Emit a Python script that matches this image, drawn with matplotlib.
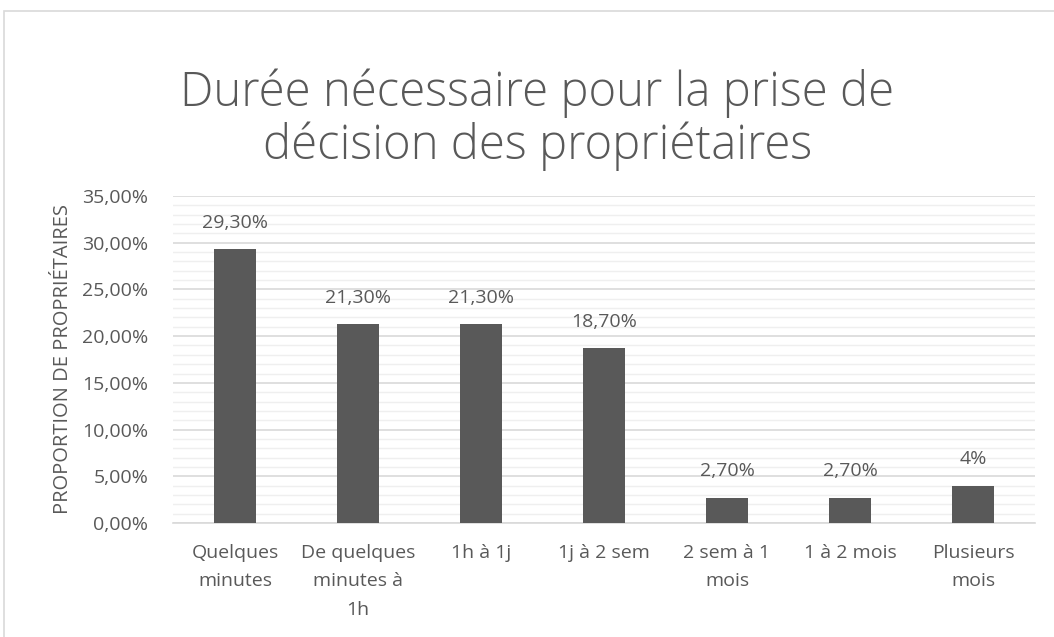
import numpy as np
import matplotlib
matplotlib.use("Agg")
import matplotlib.pyplot as plt
from matplotlib.patches import Rectangle
from matplotlib.ticker import MultipleLocator, FuncFormatter

# ------------------------------------------------------------
# DATA
# ------------------------------------------------------------
categories = [
    "Quelques\nminutes",
    "De quelques\nminutes à\n1h",
    "1h à 1j",
    "1j à 2 sem",
    "2 sem à 1\nmois",
    "1 à 2 mois",
    "Plusieurs\nmois",
]
values = [29.3, 21.3, 21.3, 18.7, 2.7, 2.7, 4.0]
value_labels = ["29,30%", "21,30%", "21,30%", "18,70%", "2,70%", "2,70%", "4%"]

title = "Durée nécessaire pour la prise de\ndécision des propriétaires"
ylabel = "PROPORTION DE PROPRIÉTAIRES"

# ------------------------------------------------------------
# STYLE
# ------------------------------------------------------------
TEXT_COLOR = "#595959"
BAR_COLOR = "#595959"
MAJOR_GRID = "#d9d9d9"
MINOR_GRID = "#efefef"
FS = 14
plt.rcParams["font.family"] = ["Open Sans", "DejaVu Sans"]

fig = plt.figure(figsize=(10.54, 6.37), dpi=100)

# chart frame (Excel-like border)
fig.patches.append(Rectangle((4 / 1054, -0.01), 1.02, (637 - 11) / 637 + 0.01,
                             transform=fig.transFigure, fill=False,
                             edgecolor="#d9d9d9", linewidth=1.2))

ax = fig.add_axes([0.1646, 0.179, 0.8169, 0.5133])

x = np.arange(len(categories))
ax.bar(x, values, width=0.335, color=BAR_COLOR, zorder=3)

for xi, v, lab in zip(x, values, value_labels):
    ax.annotate(lab, (xi, v), xytext=(0, 19), textcoords="offset points",
                ha="center", va="center", fontsize=FS, color=TEXT_COLOR)

ax.set_xlim(-0.5, len(categories) - 0.5)
ax.set_ylim(0, 35)
ax.yaxis.set_major_locator(MultipleLocator(5))
ax.yaxis.set_minor_locator(MultipleLocator(1))
ax.yaxis.set_major_formatter(FuncFormatter(lambda v, p: f"{v:.2f}%".replace(".", ",")))

ax.grid(True, which="major", axis="y", color=MAJOR_GRID, linewidth=1.2, zorder=0)
ax.grid(True, which="minor", axis="y", color=MINOR_GRID, linewidth=1.0, zorder=0)

ax.set_xticks(x)
ax.set_xticklabels(categories, fontsize=FS, color=TEXT_COLOR, linespacing=1.75, va="top")
ax.tick_params(axis="x", length=0, pad=15)
ax.tick_params(axis="y", which="both", length=0, pad=18, labelsize=FS, labelcolor=TEXT_COLOR)

for s in ["top", "right", "left"]:
    ax.spines[s].set_visible(False)
ax.spines["bottom"].set_color(MAJOR_GRID)
ax.spines["bottom"].set_linewidth(1.2)

ax.set_ylabel(ylabel, fontsize=14.5, color=TEXT_COLOR, labelpad=7)

fig.text(0.51, 0.812, title, ha="center", va="center", fontsize=34,
         color=TEXT_COLOR, fontweight="light", linespacing=1.1)

plt.savefig("out.png", dpi=100)
plt.close()
